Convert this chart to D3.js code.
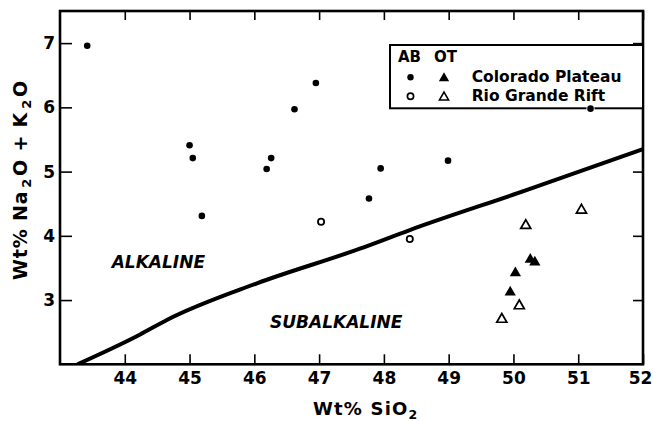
<!DOCTYPE html>
<html>
<head>
<meta charset="utf-8">
<script src="https://cdn.jsdelivr.net/npm/d3@7/dist/d3.min.js"></script>
<style>
  html, body { margin: 0; padding: 0; background: #fff; }
  svg { display: block; }
  text { font-family: "DejaVu Sans", sans-serif; font-weight: bold; fill: #000; }
</style>
</head>
<body>
<svg id="chart" width="653" height="421"></svg>
<script>
// ---------- data ----------
const xTicks = [44, 45, 46, 47, 48, 49, 50, 51, 52];
const yTicks = [3, 4, 5, 6, 7];

// Colorado Plateau, alkali basalt (filled dots)
const cpAB_x = [43.42, 45.00, 45.05, 45.19, 46.19, 46.26, 46.62, 46.95, 47.77, 47.95, 48.99, 51.19];
const cpAB_y = [6.96, 5.41, 5.21, 4.31, 5.04, 5.21, 5.97, 6.38, 4.58, 5.05, 5.17, 5.98];
// Rio Grande Rift, alkali basalt (open circles)
const rgAB_x = [47.03, 48.40];
const rgAB_y = [4.22, 3.95];
// Colorado Plateau, olivine tholeiite (filled triangles)
const cpOT_x = [50.26, 50.33, 50.03, 49.95];
const cpOT_y = [3.63, 3.59, 3.42, 3.12];
// Rio Grande Rift, olivine tholeiite (open triangles)
const rgOT_x = [51.05, 50.19, 50.09, 49.82];
const rgOT_y = [4.40, 4.16, 2.91, 2.70];

// Alkaline / subalkaline dividing curve
const divX = [43.27, 44.23, 44.65, 46.04, 47.63, 48.40, 50.20, 52.00];
const divY = [2.00, 2.46, 2.69, 3.26, 3.80, 4.09, 4.71, 5.35];

const legendHeader = ["AB", "OT"];
const legendLabels = ["Colorado Plateau", "Rio Grande Rift"];

// ---------- layout ----------
const svg = d3.select("#chart");
const L = 60, R = 643, T = 11, B = 364.3;

const x = d3.scaleLinear().domain([43, 52]).range([L, R]);
const y = d3.scaleLinear().domain([2, 7.5]).range([B, T]);

// clip
svg.append("defs").append("clipPath").attr("id", "plotclip")
  .append("rect").attr("x", L).attr("y", T).attr("width", R - L).attr("height", B - T);

// axes (inward ticks)
const gB = svg.append("g").attr("transform", `translate(0,${B})`)
  .call(d3.axisBottom(x).tickValues(xTicks).tickFormat(d3.format("d")).tickSize(-10).tickPadding(8));
const gT = svg.append("g").attr("transform", `translate(0,${T})`)
  .call(d3.axisTop(x).tickValues(xTicks).tickFormat("").tickSize(-9));
const gL = svg.append("g").attr("transform", `translate(${L},0)`)
  .call(d3.axisLeft(y).tickValues(yTicks).tickFormat(d3.format("d")).tickSize(-12).tickPadding(5));
const gR = svg.append("g").attr("transform", `translate(${R},0)`)
  .call(d3.axisRight(y).tickValues(yTicks).tickFormat("").tickSize(-10));

[gB, gT, gL, gR].forEach(g => {
  g.select(".domain").remove();
  g.selectAll(".tick line").attr("stroke", "#000").attr("stroke-width", 1.6);
  g.selectAll(".tick text").attr("font-size", 17).attr("font-family", "DejaVu Sans").attr("font-weight", "bold").attr("fill", "#000");
});
// keep the last x label inside the picture, as in the reference
gB.selectAll(".tick text").filter(d => d === 52).attr("dx", -3);

// frame
svg.append("rect").attr("x", L).attr("y", T).attr("width", R - L).attr("height", B - T)
  .attr("fill", "none").attr("stroke", "#000").attr("stroke-width", 2.6);

// dividing curve
const divData = divX.map((d, i) => [d, divY[i]]);
svg.append("path")
  .attr("clip-path", "url(#plotclip)")
  .attr("d", d3.line().x(d => x(d[0])).y(d => y(d[1])).curve(d3.curveMonotoneX)(divData))
  .attr("fill", "none").attr("stroke", "#000").attr("stroke-width", 4);

// region labels
svg.append("text").attr("x", 111.7).attr("y", 268.3).attr("font-size", 17)
  .attr("font-style", "italic").text("ALKALINE");
svg.append("text").attr("x", 270).attr("y", 327.5).attr("font-size", 17)
  .attr("font-style", "italic").text("SUBALKALINE");

// legend
const lg = svg.append("g");
lg.append("rect").attr("x", 390).attr("y", 45).attr("width", R - 390).attr("height", 63.3)
  .attr("fill", "#fff").attr("stroke", "#000").attr("stroke-width", 2);
lg.append("text").attr("x", 398).attr("y", 61.7).attr("font-size", 15).text(legendHeader[0]);
lg.append("text").attr("x", 434).attr("y", 61.7).attr("font-size", 15).text(legendHeader[1]);
const rowY = [77.3, 96.3];
const rowBase = [81.7, 100.7];
lg.append("circle").attr("cx", 410.5).attr("cy", rowY[0]).attr("r", 3.2).attr("fill", "#000");
lg.append("circle").attr("cx", 410.5).attr("cy", rowY[1]).attr("r", 3.1).attr("fill", "#fff")
  .attr("stroke", "#000").attr("stroke-width", 1.7);
lg.append("path").attr("transform", `translate(444,${rowY[0] + 1})`)
  .attr("d", d3.symbol(d3.symbolTriangle, 46)()).attr("fill", "#000");
lg.append("path").attr("transform", `translate(444,${rowY[1] + 1})`)
  .attr("d", d3.symbol(d3.symbolTriangle, 36)()).attr("fill", "#fff")
  .attr("stroke", "#000").attr("stroke-width", 1.6);
legendLabels.forEach((t, i) => {
  lg.append("text").attr("x", 471.7).attr("y", rowBase[i]).attr("font-size", 15.5).text(t);
});

// points
const pts = svg.append("g");
cpAB_x.forEach((d, i) => {
  pts.append("circle").attr("cx", x(d)).attr("cy", y(cpAB_y[i])).attr("r", 3.3)
    .attr("fill", "#000").attr("stroke", "#fff").attr("stroke-width", 1.5).attr("paint-order", "stroke");
});
rgAB_x.forEach((d, i) => {
  pts.append("circle").attr("cx", x(d)).attr("cy", y(rgAB_y[i])).attr("r", 3.1)
    .attr("fill", "#fff").attr("stroke", "#000").attr("stroke-width", 1.8);
});
cpOT_x.forEach((d, i) => {
  pts.append("path").attr("transform", `translate(${x(d)},${y(cpOT_y[i])})`)
    .attr("d", d3.symbol(d3.symbolTriangle, 55)()).attr("fill", "#000");
});
rgOT_x.forEach((d, i) => {
  pts.append("path").attr("transform", `translate(${x(d)},${y(rgOT_y[i])})`)
    .attr("d", d3.symbol(d3.symbolTriangle, 44)()).attr("fill", "#fff")
    .attr("stroke", "#000").attr("stroke-width", 1.7);
});

// axis titles
const xt = svg.append("text").attr("x", 313).attr("y", 415).attr("font-size", 18)
  .attr("letter-spacing", 1.2);
xt.append("tspan").text("Wt% SiO");
xt.append("tspan").attr("font-size", 12.5).attr("dy", 4).text("2");

const yt = svg.append("text").attr("transform", "translate(26.5,180) rotate(-90)")
  .attr("text-anchor", "middle").attr("font-size", 19).attr("letter-spacing", 0.8);
yt.append("tspan").text("Wt% Na");
yt.append("tspan").attr("font-size", 13).attr("dy", 4).attr("dx", 3).text("2");
yt.append("tspan").attr("dy", -4).attr("dx", 2).text("O + K");
yt.append("tspan").attr("font-size", 13).attr("dy", 4).attr("dx", 3).text("2");
yt.append("tspan").attr("dy", -4).attr("dx", 2).text("O");
</script>
</body>
</html>
